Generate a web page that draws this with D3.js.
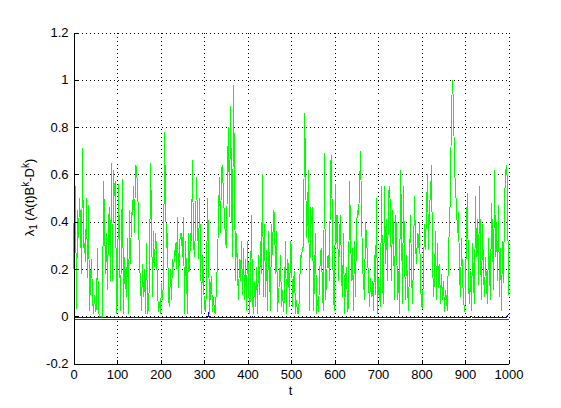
<!DOCTYPE html>
<html>
<head>
<meta charset="utf-8">
<script src="https://cdn.jsdelivr.net/npm/d3@7"></script>
<style>
  html, body { margin: 0; padding: 0; background: #fff; }
  svg { display: block; }
  text { font-family: "Liberation Sans", Arial, Helvetica, sans-serif; }
</style>
</head>
<body>
<svg id="chart" width="561" height="408"></svg>
<script>
// ---- data ----
const xTicks = [0, 100, 200, 300, 400, 500, 600, 700, 800, 900, 1000];
const yTicks = [-0.2, 0, 0.2, 0.4, 0.6, 0.8, 1, 1.2];

// green series: lambda_1 values, evenly sampled over t = 0 .. 1000
const greenValues = [
  0.2,0.58,0.52,0.03,0.45,0.33,0.5,0.4,0.18,0.71,
  0.29,0.31,0.23,0.5,0.16,0.47,0.02,0.15,0.24,0.08,
  0.01,0.09,0.02,0.03,0.29,0.02,0,0,0,0,
  0.57,0.43,0.18,0.35,0.11,0.4,0.46,0.15,0.65,0.15,
  0.62,0.51,0.57,0.01,0.08,0.56,0.31,0.02,0.32,0.58,
  0.01,0.25,0.15,0.08,0.33,0.01,0.45,0.22,0.44,0.43,
  0.55,0.35,0.64,0.63,0.54,0.43,0.22,0.15,0.02,0.22,
  0.08,0.2,0.01,0.31,0.01,0.03,0.16,0.65,0.43,0.08,
  0.36,0.21,0.35,0.29,0.11,0.02,0.06,0.01,0.14,0.07,
  0.15,0.78,0.51,0.29,0.35,0.07,0.04,0.2,0.07,0.24,
  0.21,0.25,0.31,0.2,0.42,0.12,0.3,
  0.35,0.35,0.25,0.42,0.01,0.32,0.18,0.01,0.35,0.19,
  0.35,0.32,0.66,0.31,0.25,0.38,0.59,0.4,0.24,0.5,
  0.29,0.01,0.26,0.15,0.03,0.02,0.12,0.5,0.32,0.01,
  0.12,0.17,0.02,0.08,0.02,0.01,0.15,0.22,0.43,0.59,
  0.35,0.62,0.64,0.49,0.43,0.31,0.29,0.64,0.8,0.42,
  0.89,0.55,0.25,0.98,0.59,0.15,0.35,0.19,0.07,0.24,
  0.15,0.32,0.09,0.29,0.07,0.24,0.02,0.32,0.15,0.01,
  0.11,0.43,0.07,0.01,0.15,0.04,0.21,0.01,0.26,0.09,
  0.32,0.18,0.6,0.08,0.39,0.08,0.28,0.02,0.36,0.19,
  0.02,0.39,0.26,0.45,0.43,0.18,0.36,0.02,0.09,0.15,
  0.26,0.04,0.11,0.02,0.09,0.32,0.01,0.24,
  0.21,0.04,0.32,0.29,0.04,0.15,0.19,0.01,0.07,0.01,
  0.01,0.09,0.26,0.25,0.29,0.29,0.86,0.66,0.33,0.43,
  0.62,0.02,0.46,0.39,0.46,0.02,0.16,0.35,0.01,0.07,
  0.02,0.15,0.27,0.29,0.09,0.02,0.69,0.07,0.15,0.25,
  0.26,0.15,0.64,0.68,0.32,0.08,0.02,0.56,0.31,0.43,
  0.15,0.35,0.43,0.18,0.08,0.35,0.01,0.15,0.21,0.02,
  0.04,0.57,0.38,0.15,0.29,0.02,0.32,0.08,0.38,0.45,
  0.43,0.52,0.7,0.46,0.21,0.15,0.07,0.4,0.33,0.25,
  0.16,0.04,0.16,0.08,0.15,0.02,0.26,0.09,0.5,0.01,
  0.16,0.09,0.04,0.55,0.15,0.05,0.55,0.22,0.41,0.15,
  0.52,0.55,0.45,0.15,0.45,0.36,0.07,0.43,
  0.37,0.07,0.19,0.01,0.62,0.42,0.05,0.55,0.27,0.07,
  0.26,0.14,0.02,0.22,0.43,0.19,0.05,0.25,0.51,0.31,
  0.22,0.35,0.29,0.4,0.14,0.05,0.03,0.19,0.39,0.28,
  0.45,0.6,0.28,0.48,0.5,0.64,0.25,0.08,0.16,0.36,
  0.07,0.31,0.12,0.22,0.05,0.18,0.07,0.15,0.02,0.11,
  0.07,0.02,0.31,0.36,0.56,0.87,1.0,0.89,0.64,0.53,
  0.47,0.35,0.44,0.19,0.08,0.33,0.16,0.08,0.02,0.07,
  0.4,0.52,0.14,0.05,0.19,0.02,0.31,0.15,0.05,0.51,
  0.25,0.41,0.13,0.55,0.28,0.07,0.39,0.19,0.08,0.25,
  0.14,0.05,0.33,0.19,0.07,0.48,0.35,0.11,0.62,0.25,
  0.4,0.15,0.47,0.08,0.29,0.02,0.32,0.14,0.48,0.6,
  0.64,0.56,0.09
];

// blue series (nearly constant just below zero)
const blueT = [0, 76, 78, 80, 309, 310, 312, 410, 411, 413, 913, 915, 917, 992, 996, 1000];
const blueV = [-0.006, -0.006, -0.002, -0.006, -0.006, 0.016, -0.006, -0.006, -0.002, -0.006, -0.006, -0.002, -0.006, -0.006, -0.003, 0.01];

// red series (constant)
const redT = [0, 1000];
const redV = [-0.014, -0.014];

// ---- layout ----
const svg = d3.select("#chart");
const margin = { left: 73, top: 32, right: 53, bottom: 45 };
const W = 561, H = 408;
const iw = W - margin.left - margin.right;
const ih = H - margin.top - margin.bottom;

const x = d3.scaleLinear().domain([0, 1000]).range([0, iw]);
const y = d3.scaleLinear().domain([-0.2, 1.2]).range([ih, 0]);

const g = svg.append("g").attr("transform", `translate(${margin.left + 0.5},${margin.top + 0.5})`);

const fmtY = d => (Math.abs(d) < 1e-9 ? "0" : String(+d.toFixed(1)));

// grid
const gridX = g.append("g").attr("class", "gridx")
  .call(d3.axisBottom(x).tickValues(xTicks).tickSize(ih).tickFormat(""));
gridX.select(".domain").remove();
gridX.selectAll("line").attr("stroke", "#000").attr("stroke-dasharray", "1,3").attr("shape-rendering", "crispEdges");

const gridY = g.append("g").attr("class", "gridy")
  .call(d3.axisLeft(y).tickValues(yTicks).tickSize(-iw).tickFormat(""));
gridY.select(".domain").remove();
gridY.selectAll("line").attr("stroke", "#000").attr("stroke-dasharray", "1,3").attr("shape-rendering", "crispEdges");

// series
const step = 1000 / (greenValues.length - 1);
const greenData = greenValues.map((v, i) => [i * step, v]);
const line = d3.line().x(d => x(d[0])).y(d => y(d[1]));

g.append("path").datum(greenData)
  .attr("d", line).attr("fill", "none").attr("stroke", "#00ff00").attr("stroke-width", 1)
  .attr("shape-rendering", "crispEdges");

g.append("path").datum(blueT.map((t, i) => [t, blueV[i]]))
  .attr("d", line).attr("fill", "none").attr("stroke", "#0000ff").attr("stroke-width", 1)
  .attr("shape-rendering", "crispEdges");

g.append("path").datum(redT.map((t, i) => [t, redV[i]]))
  .attr("d", line).attr("fill", "none").attr("stroke", "#ff0000").attr("stroke-width", 1)
  .attr("shape-rendering", "crispEdges");

// axes
const xAxis = g.append("g").attr("transform", `translate(0,${ih})`)
  .call(d3.axisBottom(x).tickValues(xTicks).tickSize(-4).tickSizeOuter(0).tickPadding(6).tickFormat(d3.format("d")));
const yAxis = g.append("g")
  .call(d3.axisLeft(y).tickValues(yTicks).tickSize(-4).tickSizeOuter(0).tickPadding(5).tickFormat(fmtY));

[xAxis, yAxis].forEach(a => {
  a.selectAll("path.domain").attr("stroke", "#000").attr("shape-rendering", "crispEdges");
  a.selectAll("line").attr("stroke", "#000").attr("shape-rendering", "crispEdges");
  a.selectAll("text").attr("fill", "#000").style("font-size", "13px");
});

// axis labels
svg.append("text")
  .attr("x", margin.left + iw / 2).attr("y", 395)
  .attr("text-anchor", "middle").style("font-size", "13px").text("t");

const yl = svg.append("text")
  .attr("transform", `translate(34,${margin.top + ih / 2}) rotate(-90)`)
  .attr("text-anchor", "middle").style("font-size", "13px");
yl.append("tspan").text("λ");
yl.append("tspan").attr("dy", "3").style("font-size", "10px").text("1");
yl.append("tspan").attr("dy", "-3").text(" (A(t)B");
yl.append("tspan").attr("dy", "-5").style("font-size", "10px").text("k");
yl.append("tspan").attr("dy", "5").text("-D");
yl.append("tspan").attr("dy", "-5").style("font-size", "10px").text("k");
yl.append("tspan").attr("dy", "5").text(")");
</script>
</body>
</html>
